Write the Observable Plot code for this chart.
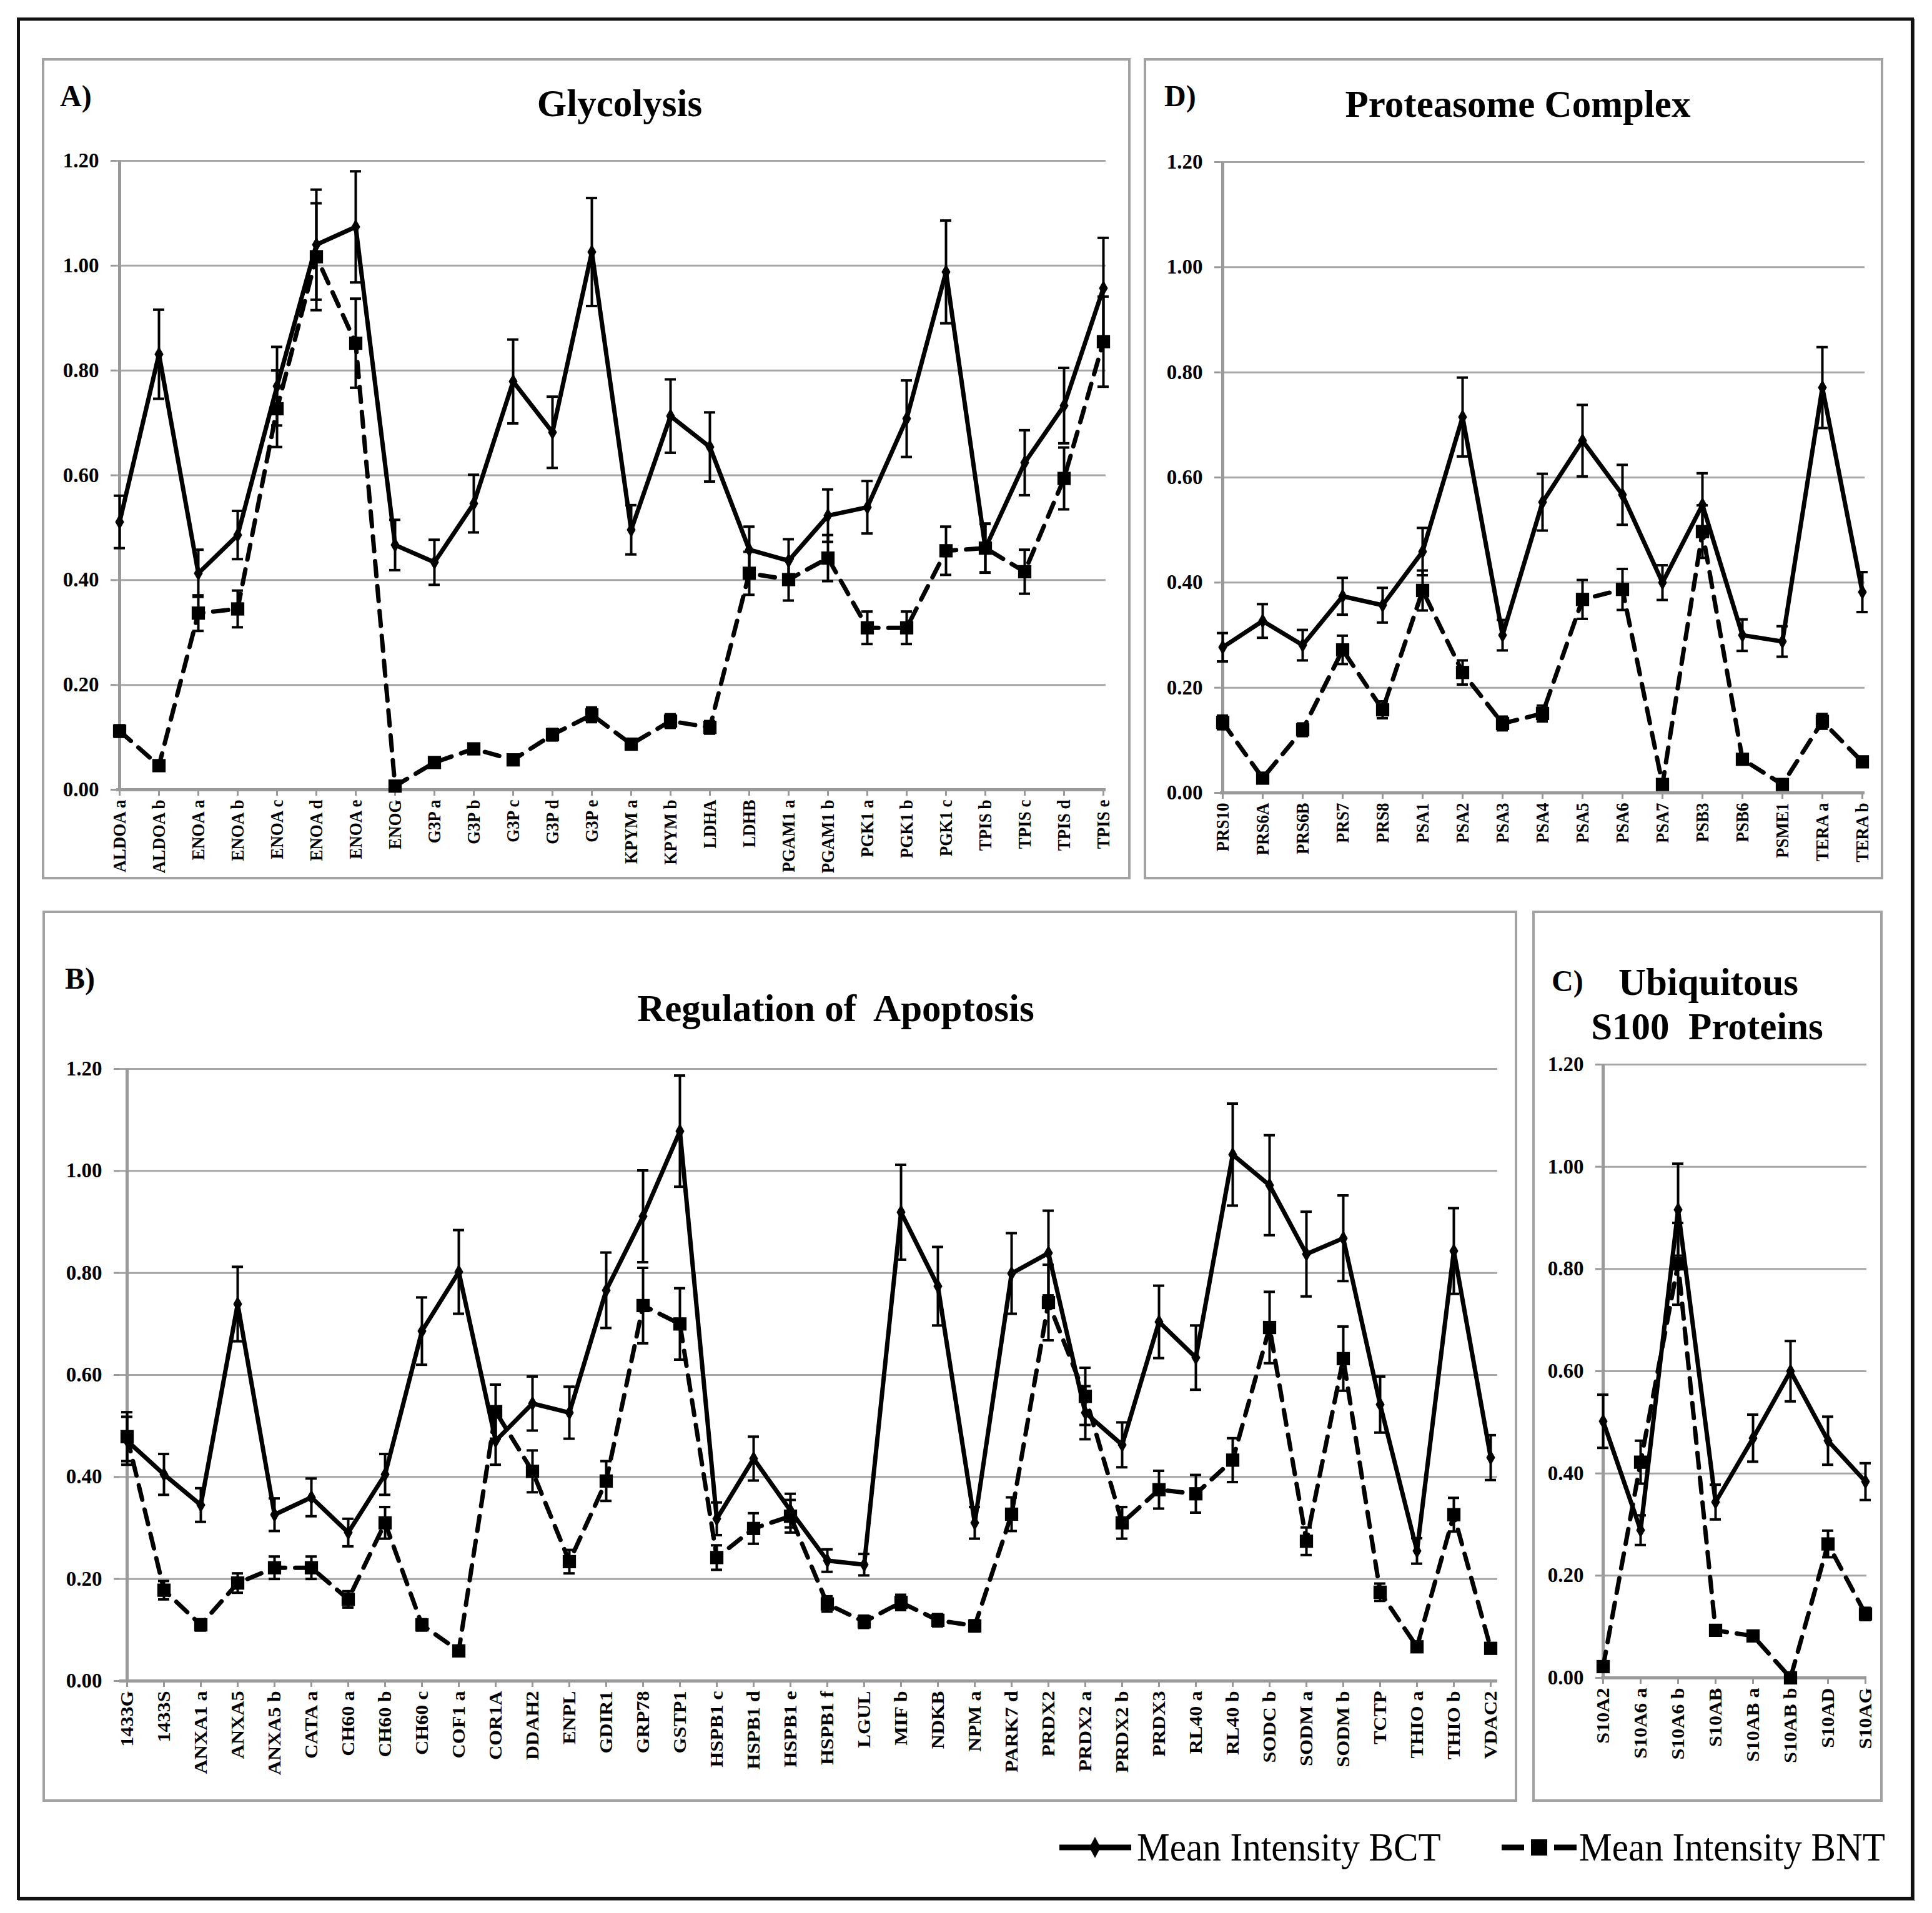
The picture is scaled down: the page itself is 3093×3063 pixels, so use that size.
<!DOCTYPE html>
<html>
<head>
<meta charset="utf-8">
<script src="https://cdn.jsdelivr.net/npm/d3@7"></script>
<script src="https://cdn.jsdelivr.net/npm/@observablehq/plot@0.6"></script>
<style>
  html, body { margin: 0; padding: 0; background: #fff; }
  #page { position: relative; width: 3093px; height: 3063px; background: #fff; font-family: "Liberation Serif", "Times New Roman", serif; overflow: hidden; }
  .outer { position: absolute; border: 5px solid #111; box-sizing: border-box; box-shadow: 2px 2px 0 #9a9a9a; }
  .box { position: absolute; border: 4px solid #a2a2a2; box-sizing: border-box; background: #fff; }
  .tag { position: absolute; font-weight: bold; font-size: 48px; line-height: 1; white-space: pre; }
  .ttl { position: absolute; font-weight: bold; font-size: 61px; line-height: 1; white-space: pre; transform: translateX(-50%); }
  .leg { position: absolute; font-size: 64px; line-height: 1; white-space: pre; transform: scaleX(0.925); transform-origin: 0 50%; }
</style>
</head>
<body>
<div id="page"></div>
<script>
// ---------------- DATA ----------------
const yTicks = [0, 0.2, 0.4, 0.6, 0.8, 1.0, 1.2];
const seriesNames = ["Mean Intensity BCT", "Mean Intensity BNT"];

// A) Glycolysis
const glyCats = ["ALDOA a","ALDOA b","ENOA a","ENOA b","ENOA c","ENOA d","ENOA e","ENOG","G3P a","G3P b","G3P c","G3P d","G3P e","KPYM a","KPYM b","LDHA","LDHB","PGAM1 a","PGAM1 b","PGK1 a","PGK1 b","PGK1 c","TPIS b","TPIS c","TPIS d","TPIS e"];
const glyBCT    = [0.511,0.831,0.413,0.486,0.770,1.040,1.074,0.467,0.434,0.546,0.779,0.682,1.026,0.496,0.713,0.654,0.458,0.437,0.523,0.539,0.708,0.988,0.461,0.624,0.733,0.957];
const glyBCTerr = [0.050,0.085,0.045,0.046,0.075,0.105,0.106,0.048,0.043,0.055,0.080,0.068,0.103,0.047,0.070,0.066,0.044,0.041,0.050,0.050,0.073,0.098,0.047,0.062,0.072,0.096];
const glyBNT    = [0.112,0.046,0.337,0.345,0.727,1.017,0.852,0.007,0.052,0.078,0.057,0.105,0.143,0.087,0.131,0.119,0.413,0.401,0.442,0.309,0.309,0.456,0.461,0.416,0.594,0.855];
const glyBNTerr = [0.011,0.005,0.034,0.035,0.073,0.102,0.085,0.001,0.005,0.008,0.006,0.011,0.014,0.009,0.013,0.012,0.041,0.040,0.044,0.031,0.031,0.046,0.046,0.042,0.059,0.086];

// D) Proteasome Complex
const protCats = ["PRS10","PRS6A","PRS6B","PRS7","PRS8","PSA1","PSA2","PSA3","PSA4","PSA5","PSA6","PSA7","PSB3","PSB6","PSME1","TERA a","TERA b"];
const protBCT    = [0.277,0.327,0.281,0.374,0.357,0.459,0.715,0.300,0.553,0.670,0.567,0.400,0.548,0.300,0.288,0.771,0.382];
const protBCTerr = [0.027,0.032,0.029,0.035,0.033,0.045,0.075,0.029,0.054,0.068,0.057,0.033,0.060,0.030,0.029,0.077,0.038];
const protBNT    = [0.134,0.028,0.120,0.272,0.158,0.385,0.229,0.132,0.151,0.368,0.387,0.016,0.497,0.064,0.016,0.136,0.059];
const protBNTerr = [0.013,0.003,0.012,0.027,0.016,0.038,0.023,0.013,0.015,0.037,0.039,0.002,0.050,0.006,0.002,0.014,0.006];

// B) Regulation of Apoptosis
const apoCats = ["1433G","1433S","ANXA1 a","ANXA5","ANXA5 b","CATA a","CH60 a","CH60 b","CH60 c","COF1 a","COR1A","DDAH2","ENPL","GDIR1","GRP78","GSTP1","HSPB1 c","HSPB1 d","HSPB1 e","HSPB1 f","LGUL","MIF b","NDKB","NPM a","PARK7 d","PRDX2","PRDX2 a","PRDX2 b","PRDX3","RL40 a","RL40 b","SODC b","SODM a","SODM b","TCTP","THIO a","THIO b","VDAC2"];
const apoBCT    = [0.471,0.405,0.345,0.739,0.326,0.360,0.291,0.405,0.686,0.802,0.471,0.544,0.526,0.766,0.911,1.078,0.318,0.436,0.334,0.236,0.228,0.919,0.774,0.310,0.799,0.839,0.526,0.463,0.704,0.634,1.032,0.972,0.837,0.868,0.542,0.255,0.843,0.438];
const apoBCTerr = [0.047,0.040,0.033,0.073,0.032,0.037,0.027,0.040,0.066,0.082,0.047,0.053,0.051,0.074,0.090,0.109,0.032,0.043,0.033,0.022,0.021,0.093,0.077,0.031,0.079,0.083,0.052,0.044,0.071,0.063,0.100,0.098,0.083,0.084,0.055,0.025,0.084,0.044];
const apoBNT    = [0.479,0.178,0.110,0.192,0.222,0.222,0.160,0.310,0.110,0.059,0.528,0.411,0.234,0.392,0.736,0.700,0.242,0.299,0.323,0.151,0.116,0.154,0.119,0.108,0.327,0.742,0.558,0.310,0.375,0.367,0.433,0.693,0.274,0.632,0.174,0.067,0.326,0.064];
const apoBNTerr = [0.048,0.018,0.011,0.019,0.022,0.022,0.016,0.031,0.011,0.006,0.053,0.041,0.023,0.039,0.074,0.070,0.024,0.030,0.032,0.015,0.012,0.015,0.012,0.011,0.033,0.074,0.056,0.031,0.037,0.037,0.043,0.070,0.027,0.063,0.017,0.007,0.033,0.006];

// C) Ubiquitous S100 Proteins
const s100Cats = ["S10A2","S10A6 a","S10A6 b","S10AB","S10AB a","S10AB b","S10AD","S10AG"];
const s100BCT    = [0.502,0.289,0.916,0.344,0.469,0.600,0.464,0.384];
const s100BCTerr = [0.052,0.029,0.090,0.034,0.046,0.059,0.047,0.036];
const s100BNT    = [0.022,0.422,0.810,0.093,0.082,0.000,0.262,0.125];
const s100BNTerr = [0.002,0.042,0.080,0.009,0.008,0.000,0.026,0.012];

// ---------------- LAYOUT ----------------
const page = document.getElementById("page");

function div(cls, css, text) {
  const d = document.createElement("div");
  d.className = cls;
  Object.assign(d.style, css);
  if (text != null) d.textContent = text;
  page.appendChild(d);
  return d;
}

// outer frame and panel boxes
div("outer", {left: "27px", top: "28px", width: "3037px", height: "3014px"});
div("box", {left: "67px", top: "93px", width: "1743px", height: "1315px"});   // A
div("box", {left: "1831px", top: "93px", width: "1184px", height: "1315px"}); // D
div("box", {left: "68px", top: "1458px", width: "2361px", height: "1427px"}); // B
div("box", {left: "2453px", top: "1458px", width: "561px", height: "1427px"}); // C

// titles
div("tag", {left: "96px", top: "130px"}, "A)");
div("ttl", {left: "992px", top: "135px"}, "Glycolysis");
div("tag", {left: "1864px", top: "130px"}, "D)");
div("ttl", {left: "2430px", top: "136px"}, "Proteasome Complex");
div("tag", {left: "104px", top: "1543px"}, "B)");
div("ttl", {left: "1338px", top: "1584px"}, "Regulation of  Apoptosis");
div("tag", {left: "2484px", top: "1547px"}, "C)");
div("ttl", {left: "2735px", top: "1542px"}, "Ubiquitous");
div("ttl", {left: "2733px", top: "1613px"}, "S100  Proteins");

// ---------------- PANELS ----------------
function panel(cfg) {
  const rows = cfg.cats.map((c, i) => ({
    cat: c, bct: cfg.bct[i], be: cfg.bctErr[i], bnt: cfg.bnt[i], ne: cfg.bntErr[i]
  }));
  const width = cfg.right - cfg.left, height = cfg.bottom - cfg.top;
  const errMarks = (v, e) => [
    Plot.ruleX(rows, {x: "cat", y1: d => d[v] - d[e], y2: d => d[v] + d[e], stroke: "black", strokeWidth: 4}),
    Plot.ruleY(rows, {x1: "cat", x2: "cat", y: d => d[v] + d[e], insetLeft: -9, insetRight: -9, stroke: "black", strokeWidth: 4}),
    Plot.ruleY(rows, {x1: "cat", x2: "cat", y: d => d[v] - d[e], insetLeft: -9, insetRight: -9, stroke: "black", strokeWidth: 4})
  ];
  const svg = Plot.plot({
    width, height,
    marginLeft: cfg.fx0 - cfg.left,
    marginRight: cfg.right - cfg.fx1,
    marginTop: cfg.fyTop - cfg.top,
    marginBottom: cfg.bottom - cfg.fyZero,
    style: {fontFamily: "'Liberation Serif', 'Times New Roman', serif", fontWeight: "bold", color: "black", background: "transparent", overflow: "visible"},
    x: {type: "point", domain: cfg.cats, padding: 0, label: null},
    y: {domain: [0, 1.2], label: null},
    marks: [
      Plot.gridY(yTicks.filter(d => d > 0), {stroke: "#a6a6a6", strokeOpacity: 1, strokeWidth: 3}),
      Plot.axisY({ticks: yTicks, tickFormat: d => d.toFixed(2), tickSize: 9, tickPadding: 19, stroke: "#999", strokeWidth: 3, fill: "black", fontSize: 33, label: null}),
      Plot.axisX({tickRotate: -90, tickSize: 10, tickPadding: 6, stroke: "#999", strokeWidth: 3, fill: "black", fontSize: cfg.xFont, label: null}),
      Plot.ruleY([0], {stroke: "#9a9a9a", strokeWidth: 5}),
      Plot.ruleX([cfg.cats[0]], {stroke: "#9a9a9a", strokeWidth: 5}),
      // BCT series: solid line, diamond markers
      ...errMarks("bct", "be"),
      Plot.lineY(rows, {x: "cat", y: "bct", stroke: "black", strokeWidth: 7, strokeLinejoin: "miter"}),
      Plot.dot(rows, {x: "cat", y: "bct", symbol: "diamond", r: 7.5, fill: "black", stroke: "none"}),
      // BNT series: dashed line, square markers
      ...errMarks("bnt", "ne"),
      Plot.lineY(rows, {x: "cat", y: "bnt", stroke: "black", strokeWidth: 7, strokeDasharray: "24,16"}),
      Plot.dot(rows, {x: "cat", y: "bnt", symbol: "square", r: 12, fill: "black", stroke: "none"})
    ]
  });
  svg.style.position = "absolute";
  svg.style.left = cfg.left + "px";
  svg.style.top = cfg.top + "px";
  page.appendChild(svg);
  // condense / stretch rotated category labels along their baseline like the original
  if (cfg.xStretch !== 1) {
    svg.querySelectorAll('g[aria-label="x-axis tick label"] text').forEach(t => {
      const L = t.getComputedTextLength();
      if (L > 0) {
        t.setAttribute("textLength", (L * cfg.xStretch).toFixed(1));
        t.setAttribute("lengthAdjust", "spacingAndGlyphs");
      }
    });
  }
}

panel({cats: glyCats, bct: glyBCT, bctErr: glyBCTerr, bnt: glyBNT, bntErr: glyBNTerr, xFont: 30, xStretch: 0.9,
       left: 71, top: 200, right: 1806, bottom: 1404, fx0: 186, fx1: 1770, fyTop: 257, fyZero: 1264});
panel({cats: protCats, bct: protBCT, bctErr: protBCTerr, bnt: protBNT, bntErr: protBNTerr, xFont: 30, xStretch: 0.9,
       left: 1835, top: 200, right: 3011, bottom: 1404, fx0: 1953, fx1: 2985, fyTop: 259, fyZero: 1269});
panel({cats: apoCats, bct: apoBCT, bctErr: apoBCTerr, bnt: apoBNT, bntErr: apoBNTerr, xFont: 30, xStretch: 1.07,
       left: 72, top: 1650, right: 2425, bottom: 2881, fx0: 191, fx1: 2397, fyTop: 1711, fyZero: 2691});
panel({cats: s100Cats, bct: s100BCT, bctErr: s100BCTerr, bnt: s100BNT, bntErr: s100BNTerr, xFont: 30, xStretch: 1.07,
       left: 2457, top: 1680, right: 3010, bottom: 2881, fx0: 2563, fx1: 2988, fyTop: 1704, fyZero: 2686});

// ---------------- LEGEND ----------------
const NS = "http://www.w3.org/2000/svg";
const leg = document.createElementNS(NS, "svg");
leg.setAttribute("width", 1400); leg.setAttribute("height", 80);
Object.assign(leg.style, {position: "absolute", left: "1680px", top: "2918px"});
page.appendChild(leg);
function el(tag, attrs) {
  const e = document.createElementNS(NS, tag);
  for (const k in attrs) e.setAttribute(k, attrs[k]);
  leg.appendChild(e);
  return e;
}
// BCT swatch (solid + diamond), centred at y=40
el("line", {x1: 16, x2: 131, y1: 40, y2: 40, stroke: "black", "stroke-width": 9});
el("path", {d: "M73,23 L82,40 L73,57 L64,40 Z", fill: "black"});
// BNT swatch (dash + square + dash)
el("line", {x1: 724, x2: 760, y1: 40, y2: 40, stroke: "black", "stroke-width": 9});
el("rect", {x: 771, y: 27, width: 26, height: 26, fill: "black"});
el("line", {x1: 808, x2: 844, y1: 40, y2: 40, stroke: "black", "stroke-width": 9});
div("leg", {left: "1820px", top: "2926px"}, seriesNames[0]);
div("leg", {left: "2528px", top: "2926px"}, seriesNames[1]);
</script>
</body>
</html>
